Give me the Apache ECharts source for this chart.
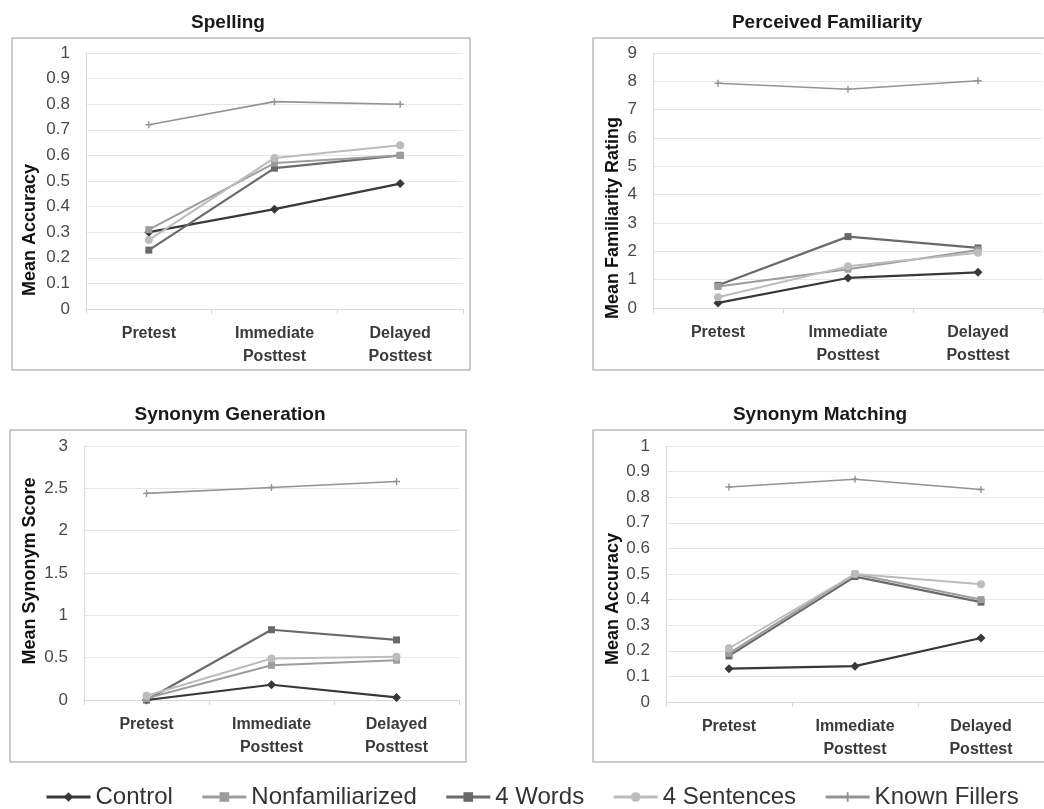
<!DOCTYPE html>
<html>
<head>
<meta charset="utf-8">
<script src="https://cdn.jsdelivr.net/npm/echarts@6/dist/echarts.min.js"></script>
<style>
html,body{margin:0;padding:0;background:#fff;}
#chart{width:1044px;height:809px;}
</style>
</head>
<body>
<div id="chart"></div>
<script>
// ---- data ----
const categories = ['Pretest', 'Immediate\nPosttest', 'Delayed\nPosttest'];
const seriesNames = ['Control', 'Nonfamiliarized', '4 Words', '4 Sentences', 'Known Fillers'];

const panelTitles = ['Spelling', 'Perceived Familiarity', 'Synonym Generation', 'Synonym Matching'];
const yAxisNames = ['Mean Accuracy', 'Mean Familiarity Rating', 'Mean Synonym Score', 'Mean Accuracy'];
const yMax = [1, 9, 3, 1];
const yStep = [0.1, 1, 0.5, 0.1];

// Spelling
const spellControl = [0.30, 0.39, 0.49];
const spellNonfam = [0.31, 0.57, 0.60];
const spellWords4 = [0.23, 0.55, 0.60];
const spellSent4 = [0.27, 0.59, 0.64];
const spellFillers = [0.72, 0.81, 0.80];

// Perceived Familiarity
const famControl = [0.18, 1.06, 1.26];
const famNonfam = [0.76, 1.37, 2.05];
const famWords4 = [0.80, 2.52, 2.12];
const famSent4 = [0.38, 1.47, 1.95];
const famFillers = [7.93, 7.72, 8.02];

// Synonym Generation
const genControl = [0.00, 0.18, 0.03];
const genNonfam = [0.02, 0.41, 0.47];
const genWords4 = [0.00, 0.83, 0.71];
const genSent4 = [0.05, 0.49, 0.51];
const genFillers = [2.44, 2.51, 2.58];

// Synonym Matching
const matchControl = [0.13, 0.14, 0.25];
const matchNonfam = [0.19, 0.50, 0.40];
const matchWords4 = [0.18, 0.49, 0.39];
const matchSent4 = [0.21, 0.50, 0.46];
const matchFillers = [0.84, 0.87, 0.83];

const panelData = [
  [spellControl, spellNonfam, spellWords4, spellSent4, spellFillers],
  [famControl, famNonfam, famWords4, famSent4, famFillers],
  [genControl, genNonfam, genWords4, genSent4, genFillers],
  [matchControl, matchNonfam, matchWords4, matchSent4, matchFillers]
];

// ---- styles ----
const plusPath = 'path://M4,0H6V4H10V6H6V10H4V6H0V4H4Z';
const seriesStyle = [
  {color: '#383838', symbol: 'diamond', size: 9, width: 2.2},
  {color: '#9d9d9d', symbol: 'rect', size: 7, width: 2},
  {color: '#6a6a6a', symbol: 'rect', size: 7, width: 2.2},
  {color: '#bcbcbc', symbol: 'circle', size: 8, width: 2},
  {color: '#939393', symbol: plusPath, size: 7, width: 1.6}
];
const drawOrder = [4, 3, 1, 2, 0];

const gridPos = [
  {left: 86, top: 53, width: 377, height: 256},
  {left: 653, top: 53, width: 390, height: 255},
  {left: 84, top: 446, width: 375, height: 254},
  {left: 666, top: 446, width: 378, height: 256}
];
const titlePos = [[223, 8], [822, 8], [225, 400], [815, 400]];
const yNamePos = [[30, 230], [613, 218], [30, 571], [613, 599]];
const framePos = [
  {x: 12, y: 38, width: 458, height: 332},
  {x: 593, y: 38, width: 470, height: 332},
  {x: 10, y: 430, width: 456, height: 332},
  {x: 593, y: 430, width: 470, height: 332}
];

const grids = [], xAxes = [], yAxes = [], series = [], titles = [], graphics = [];

for (let p = 0; p < 4; p++) {
  grids.push(Object.assign({containLabel: false}, gridPos[p]));
  xAxes.push({
    type: 'category', gridIndex: p, data: categories, boundaryGap: true,
    axisLine: {show: true, lineStyle: {color: '#d9d9d9', width: 1}},
    axisTick: {show: true, length: 5, lineStyle: {color: '#d9d9d9'}},
    axisLabel: {
      margin: 13, color: '#3a3a3a', fontFamily: 'Liberation Sans', fontWeight: 'bold',
      fontSize: 16, lineHeight: 23, interval: 0
    }
  });
  yAxes.push({
    type: 'value', gridIndex: p, min: 0, max: yMax[p], interval: yStep[p],
    axisLine: {show: true, lineStyle: {color: '#d9d9d9', width: 1}},
    axisTick: {show: false},
    splitLine: {show: true, lineStyle: {color: '#e6e6e6', width: 1}},
    axisLabel: {margin: 16, color: '#4a4a4a', fontFamily: 'Liberation Sans', fontSize: 17}
  });
  titles.push({
    text: panelTitles[p], left: titlePos[p][0], top: titlePos[p][1], textAlign: 'center',
    textStyle: {fontFamily: 'Liberation Sans', fontWeight: 'bold', fontSize: 19, color: '#1a1a1a'}
  });
  graphics.push({
    type: 'rect', shape: framePos[p], silent: true, z: -1,
    style: {fill: 'none', stroke: '#bdbdbd', lineWidth: 1.5}
  });
  graphics.push({
    type: 'text', x: yNamePos[p][0], y: yNamePos[p][1], rotation: Math.PI / 2,
    style: {
      text: yAxisNames[p], font: 'bold 18px "Liberation Sans"', fill: '#111',
      align: 'center', verticalAlign: 'middle', textAlign: 'center', textVerticalAlign: 'middle'
    }
  });
  for (const s of drawOrder) {
    const st = seriesStyle[s];
    series.push({
      name: seriesNames[s], type: 'line', xAxisIndex: p, yAxisIndex: p,
      data: panelData[p][s],
      symbol: st.symbol, symbolSize: st.size, showSymbol: true,
      lineStyle: {color: st.color, width: st.width},
      itemStyle: {color: st.color, borderWidth: 0},
      emphasis: {disabled: true}, animation: false, z: 2 + (4 - drawOrder.indexOf(s))
    });
  }
}

const chart = echarts.init(document.getElementById('chart'), null, {renderer: 'canvas'});
chart.setOption({
  backgroundColor: '#ffffff',
  animation: false,
  title: titles,
  grid: grids,
  xAxis: xAxes,
  yAxis: yAxes,
  series: series,
  graphic: graphics,
  legend: {
    data: seriesNames, left: 40, top: 779, itemWidth: 44, itemHeight: 12, itemGap: 28,
    lineStyle: {width: 3},
    textStyle: {fontFamily: 'Liberation Sans', fontSize: 24, color: '#333333', lineHeight: 26},
    selectedMode: false
  }
});
</script>
</body>
</html>
